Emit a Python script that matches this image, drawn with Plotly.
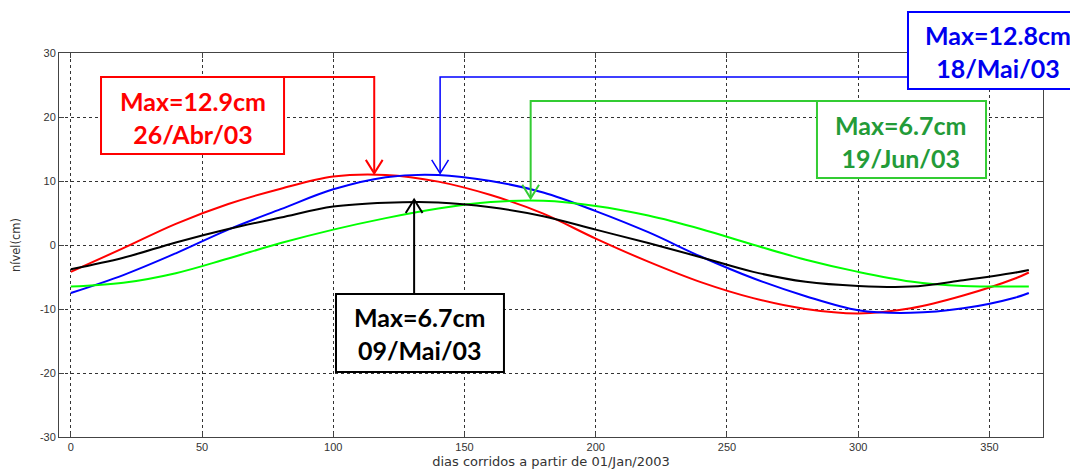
import plotly.graph_objects as go

# ---- data ----
days = [0, 20, 40, 60, 80, 100, 120, 140, 160, 180, 200, 220, 240, 260, 280, 300, 320, 340, 360, 365]
red_vals = [-4.2, -0.5, 3.3, 6.4, 8.8, 10.7, 10.95, 9.9, 7.8, 4.9, 1.0, -2.6, -5.8, -8.3, -10.0, -10.7, -9.9, -7.9, -5.2, -4.3]
blue_vals = [-7.5, -4.7, -1.3, 2.4, 5.6, 8.7, 10.6, 10.95, 10.0, 8.2, 5.3, 2.0, -1.8, -5.2, -8.0, -10.2, -10.6, -9.9, -8.2, -7.5]
black_vals = [-3.8, -2.0, 0.4, 2.5, 4.3, 6.0, 6.6, 6.65, 5.9, 4.5, 2.4, 0.3, -1.9, -4.2, -5.75, -6.4, -6.5, -5.5, -4.3, -3.9]
green_vals = [-6.5, -5.9, -4.4, -2.1, 0.3, 2.4, 4.2, 5.7, 6.7, 6.9, 6.1, 4.6, 2.5, 0.05, -2.3, -4.2, -5.7, -6.4, -6.5, -6.5]

x_ticks = [0, 50, 100, 150, 200, 250, 300, 350]
y_ticks = [-30, -20, -10, 0, 10, 20, 30]
y_tick_labels = ["-30", "-20", "-10", "0", "10", "20", "30"]

ann_line1 = ["Max=12.9cm", "Max=12.8cm", "Max=6.7cm", "Max=6.7cm"]
ann_line2 = ["26/Abr/03", "18/Mai/03", "19/Jun/03", "09/Mai/03"]

# ---- styling ----
line_colors = ["#ff0000", "#0000ff", "#00ff00", "#000000"]
text_colors = ["#ff0000", "#0000ee", "#239b38", "#000000"]
border_colors = ["#ff0000", "#0000ff", "#33cc33", "#000000"]

series = [red_vals, blue_vals, green_vals, black_vals]

fig = go.Figure()
for vals, col in zip(series, line_colors):
    fig.add_trace(go.Scatter(x=days, y=vals, mode="lines",
                             line=dict(color=col, width=2, shape="spline"),
                             showlegend=False, hoverinfo="skip"))

# annotation geometry (layout positions)
# order: red, blue, green, black
tip_day = [115.6, 140.7, 175.2, 130.8]
tip_val = [11.2, 11.2, 7.3, 7.1]
elbow_val = [26.25, 26.25, 22.5, None]
elbow_end_day = [81.2, 319.0, 284.3, None]
black_box_top_val = -7.66
ARM_DX, ARM_DY = 3.2, 2.1

shapes = []
for i in range(4):
    col = border_colors[i]
    w = 1.5 if i == 1 else 2
    if i < 3:
        path = (f"M {elbow_end_day[i]},{elbow_val[i]} L {tip_day[i]},{elbow_val[i]} "
                f"L {tip_day[i]},{tip_val[i]}")
        head = (f"M {tip_day[i]-ARM_DX},{tip_val[i]+ARM_DY} L {tip_day[i]},{tip_val[i]} "
                f"L {tip_day[i]+ARM_DX},{tip_val[i]+ARM_DY}")
    else:
        path = f"M {tip_day[i]},{black_box_top_val} L {tip_day[i]},{tip_val[i]}"
        head = (f"M {tip_day[i]-ARM_DX},{tip_val[i]-ARM_DY} L {tip_day[i]},{tip_val[i]} "
                f"L {tip_day[i]+ARM_DX},{tip_val[i]-ARM_DY}")
    for p in (path, head):
        shapes.append(dict(type="path", path=p, xref="x", yref="y",
                           line=dict(color=col, width=w), layer="above"))

# boxes in paper coords: x0, x1, y0, y1
boxes = [
    (0.0427, 0.2287, 0.737, 0.9375),
    (0.8628, 1.0335, 0.906, 1.107),
    (0.7703, 0.9421, 0.6745, 0.875),
    (0.2815, 0.4522, 0.169, 0.3724),
]
text_cx = [0.1357, 0.9543, 0.8547, 0.3659]
text_cy = [0.832, 1.0034, 0.7708, 0.2695]

annotations = []
for i, (x0, x1, y0, y1) in enumerate(boxes):
    shapes.append(dict(type="rect", xref="paper", yref="paper", x0=x0, x1=x1, y0=y0, y1=y1,
                       fillcolor="white", line=dict(color=border_colors[i], width=2),
                       layer="above"))
    annotations.append(dict(xref="paper", yref="paper", x=text_cx[i], y=text_cy[i],
                            xanchor="center", yanchor="middle", showarrow=False,
                            text=f"<b>{ann_line1[i]}</b><br><b>{ann_line2[i]}</b>",
                            align="center",
                            font=dict(family="Lato", size=25, color=text_colors[i])))

axis_common = dict(showline=True, linecolor="#444", linewidth=1, mirror="ticks",
                   ticks="inside", ticklen=5, tickcolor="#444",
                   showgrid=True, gridcolor="#333", gridwidth=1, griddash="3px,3px",
                   zeroline=False, automargin=False,
                   tickfont=dict(family="Liberation Sans", size=11, color="#333"))

# the page body has an 8px margin, so the figure is sized to fit the window
fig.update_layout(
    width=1070, height=467,
    margin=dict(l=51, r=35, t=45, b=38),
    paper_bgcolor="white", plot_bgcolor="white",
    shapes=shapes, annotations=annotations,
    xaxis=dict(range=[-4.5, 370.4], tickvals=x_ticks,
               title=dict(text="dias corridos a partir de 01/Jan/2003",
                          font=dict(family="DejaVu Sans", size=13, color="#333"), standoff=4),
               **axis_common),
    yaxis=dict(range=[-30, 30], tickvals=y_ticks, ticktext=y_tick_labels,
               title=dict(text="nível(cm)",
                          font=dict(family="DejaVu Sans", size=11.5, color="#333"), standoff=16),
               **axis_common),
)

fig.write_html("out.html")
